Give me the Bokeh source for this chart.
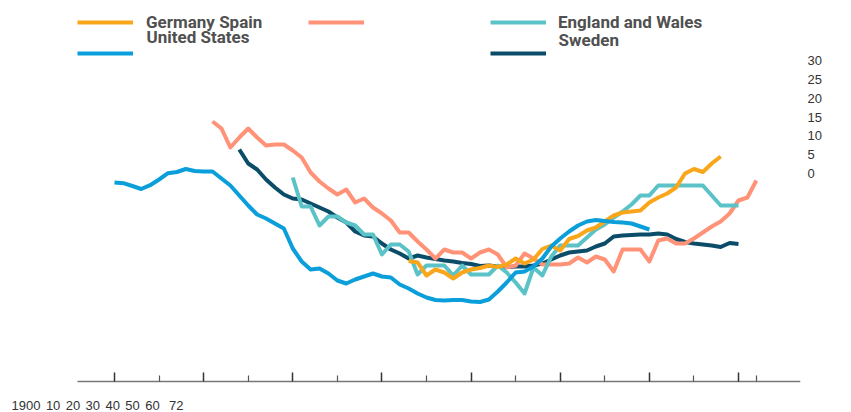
from bokeh.plotting import figure
from bokeh.models import (Range1d, LinearAxis, FixedTicker, Legend, LegendItem,
                          CustomLabelingPolicy, Label)
from bokeh.embed import file_html
from bokeh.resources import INLINE

# ---------------- data ----------------
us_years = list(range(1900, 1961))
us_values = [19.9, 19.83, 19.55, 19.25, 19.63, 20.2, 20.83, 20.95, 21.25, 21.05,
             21.0, 21.0, 20.3, 19.6, 18.6, 17.6, 16.7, 16.3, 15.8, 15.3,
             13.3, 12.0, 11.2, 11.3, 10.8, 10.1, 9.8, 10.2, 10.5, 10.8,
             10.5, 10.4, 9.7, 9.3, 8.8, 8.4, 8.15, 8.1, 8.15, 8.15,
             8.0, 7.95, 8.2, 9.0, 9.9, 10.9, 11.0, 11.5, 12.3, 13.5,
             14.3, 15.0, 15.6, 16.0, 16.15, 16.05, 15.95, 15.9, 15.8, 15.5,
             15.2]

spain_years = list(range(1911, 1973))
spain_values = [26.0, 25.3, 23.4, 24.4, 25.3, 24.4, 23.6, 23.7, 23.7, 23.1,
                22.4, 20.9, 20.0, 19.3, 18.7, 19.2, 17.9, 18.3, 17.4, 16.8,
                16.1, 14.9, 14.9, 14.0, 13.2, 12.3, 13.2, 12.9, 12.9, 12.3,
                12.9, 13.2, 12.7, 11.4, 11.6, 12.8, 12.3, 11.7, 11.7, 11.7,
                11.8, 12.4, 11.9, 12.5, 12.2, 11.0, 13.2, 13.2, 13.2, 12.0,
                14.1, 14.3, 13.8, 13.8, 14.3, 14.9, 15.5, 16.0, 16.8, 18.1,
                18.4, 20.1]

sweden_years = list(range(1914, 1971))
sweden_values = [23.2, 21.8, 21.2, 20.2, 19.4, 18.7, 18.3,
                 18.2, 17.8, 17.4, 17.0, 16.4, 15.9, 15.0, 14.6, 14.5, 13.8,
                 13.2, 12.8, 12.3, 12.6, 12.4, 12.25, 12.1, 12.0, 11.85, 11.75,
                 11.55, 11.6, 11.5, 11.45, 11.5, 11.5, 11.6, 11.8, 12.2, 12.6,
                 12.9, 13.0, 13.1, 13.5, 13.8, 14.5, 14.6, 14.65, 14.7, 14.7,
                 14.8, 14.7, 14.25, 13.95, 13.8, 13.7, 13.6, 13.45, 13.85, 13.75]

ew_years = list(range(1920, 1971))
ew_values = [20.4,
             17.5, 17.5, 15.6, 16.5, 16.5, 15.9, 15.6, 14.7, 14.7, 12.7,
             13.7, 13.7, 13.0, 10.7, 11.6, 11.6, 11.6, 10.6, 11.6, 10.7,
             10.7, 10.7, 11.6, 10.9, 9.9, 8.8, 11.4, 10.6, 12.5, 13.6,
             13.6, 13.6, 14.4, 15.2, 15.7, 16.4, 17.0, 17.7, 18.6, 18.6,
             19.6, 19.6, 19.6, 19.6, 19.6, 19.6, 18.6, 17.6, 17.6, 17.6]

germany_years = list(range(1933, 1969))
germany_values = [12.05, 11.9, 10.6, 11.2, 10.9, 10.3, 10.9,
                  11.2, 11.35, 11.6, 11.45, 11.7, 12.3, 11.8, 12.2, 13.25, 13.6,
                  13.1, 14.25, 14.55, 15.1, 15.4, 16.0, 16.6, 16.9, 17.0, 17.1,
                  17.9, 18.4, 18.8, 19.4, 20.8, 21.25, 20.95, 21.8, 22.5]

x_major_ticks = [1900, 1910, 1920, 1930, 1940, 1950, 1960, 1970]
x_minor_ticks = [1905, 1915, 1925, 1935, 1945, 1955, 1965, 1972]
x_label_ticks = [1900, 1910, 1920, 1930, 1940, 1950, 1960, 1972]
x_label_texts = ["1900", "10", "20", "30", "40", "50", "60", "72"]
right_ticks = [0, 5, 10, 15, 20, 25, 30]

# ---------------- layout (pixel geometry) ----------------
W, H = 851, 412
FRAME_RIGHT = 800
AXIS_Y = 381                # window y of the x-axis line (value 0)
PX_PER_YEAR = 624 / 70
X_START = 1900 - 114 / PX_PER_YEAR
X_END = 1900 + (FRAME_RIGHT - 114) / PX_PER_YEAR
AXIS_START = 1900 - 37 / PX_PER_YEAR
Y_PX_PER_UNIT = 10.0

LAB_PX = 143 / 72
LAB_START = 1900 - 40 / LAB_PX
LAB_END = 1900 + (FRAME_RIGHT - 40) / LAB_PX

R_PX = 113 / 30
R_START = -(H - 173) / R_PX
R_END = 173 / R_PX

p = figure(width=W, height=H, output_backend="svg", toolbar_location=None,
           x_range=Range1d(X_START, X_END),
           y_range=Range1d(-(H - AXIS_Y) / Y_PX_PER_UNIT, AXIS_Y / Y_PX_PER_UNIT),
           y_axis_location=None, min_border_left=0, min_border_top=0,
           min_border_right=W - FRAME_RIGHT, min_border_bottom=0,
           outline_line_color=None, background_fill_color="white",
           border_fill_color="white")
p.grid.visible = False
p.extra_x_ranges = {"lab": Range1d(LAB_START, LAB_END)}
p.extra_y_ranges = {"rl": Range1d(R_START, R_END)}

ax = p.xaxis[0]
ax.fixed_location = 0
ax.ticker = FixedTicker(ticks=x_major_ticks, minor_ticks=x_minor_ticks)
ax.bounds = (AXIS_START, X_END)
ax.major_label_policy = CustomLabelingPolicy(code="""
for (let i = 0; i < indices.size; i++) { indices.unset(i) }
return indices
""")
ax.major_label_text_font_size = "0px"
ax.major_label_standoff = 0
ax.major_tick_in = 9
ax.major_tick_out = 0
ax.minor_tick_in = 6
ax.minor_tick_out = 0
ax.axis_line_color = "#777777"
ax.axis_line_width = 1.5
ax.major_tick_line_color = "#333333"
ax.major_tick_line_width = 1.5
ax.minor_tick_line_color = "#555555"
ax.minor_tick_line_width = 1.2

# crammed tick labels: own range, right-aligned at their ticks, pinned at value 0
lab_axis = LinearAxis(x_range_name="lab", fixed_location=0,
                      ticker=FixedTicker(ticks=x_label_ticks),
                      major_label_overrides=dict(zip(x_label_ticks, x_label_texts)),
                      major_label_orientation=0.0001,
                      axis_line_color=None, major_tick_line_color=None,
                      minor_tick_line_color=None, major_tick_in=0, major_tick_out=0,
                      minor_tick_in=0, minor_tick_out=0, major_label_standoff=24,
                      major_label_text_font="Liberation Sans",
                      major_label_text_font_size="13px",
                      major_label_text_color="#333333")
p.add_layout(lab_axis, "below")

r_axis = LinearAxis(y_range_name="rl", ticker=FixedTicker(ticks=right_ticks),
                    axis_line_color=None, major_tick_line_color=None,
                    minor_tick_line_color=None, major_tick_in=0, major_tick_out=0,
                    minor_tick_in=0, minor_tick_out=0, major_label_standoff=7,
                    major_label_text_font="Liberation Sans",
                    major_label_text_font_size="13px",
                    major_label_text_color="#333333")
p.add_layout(r_axis, "right")

LW = 4
r_se = p.line(sweden_years, sweden_values, line_color="#0B4D68", line_width=LW, line_join="round")
r_es = p.line(spain_years, spain_values, line_color="#FF9277", line_width=LW, line_join="round")
r_ew = p.line(ew_years, ew_values, line_color="#5BC3C8", line_width=LW, line_join="round")
r_de = p.line(germany_years, germany_values, line_color="#FAA61A", line_width=LW, line_join="round")
r_us = p.line(us_years, us_values, line_color="#0A9FDB", line_width=LW, line_join="round")

FONT = "Roboto"
TXT = "#505050"


def add_legend(renderer, label, win_x0, swatch_y, standoff):
    h = 24
    lg = Legend(items=[LegendItem(label=label, renderers=[renderer])],
                location=(win_x0, int(round(H - swatch_y - h / 2))),
                orientation="horizontal", padding=0, margin=0, spacing=0,
                glyph_width=56, glyph_height=h, label_height=h,
                label_standoff=standoff, border_line_color=None,
                background_fill_alpha=0, label_text_font=FONT,
                label_text_font_style="bold", label_text_font_size="17px",
                label_text_color=TXT)
    p.add_layout(lg)


add_legend(r_de, "Germany Spain", 77, 21.5, 13)
add_legend(r_es, "", 308, 22.5, 13)
add_legend(r_ew, "England and Wales", 490, 21.5, 12)
add_legend(r_us, "", 77, 53, 13)
add_legend(r_se, "", 490, 53, 12)


def win_to_data(wx, wy):
    return X_START + wx / PX_PER_YEAR, (AXIS_Y - wy) / Y_PX_PER_UNIT


for text, wx, wy in [("United States", 146, 36.5), ("Sweden", 558, 39.5)]:
    dx, dy = win_to_data(wx, wy)
    p.add_layout(Label(x=dx, y=dy, text=text, text_font=FONT, text_font_style="bold",
                       text_font_size="17px", text_color=TXT, text_baseline="middle",
                       text_align="left"))

open("out.html", "w").write(file_html(p, INLINE))
